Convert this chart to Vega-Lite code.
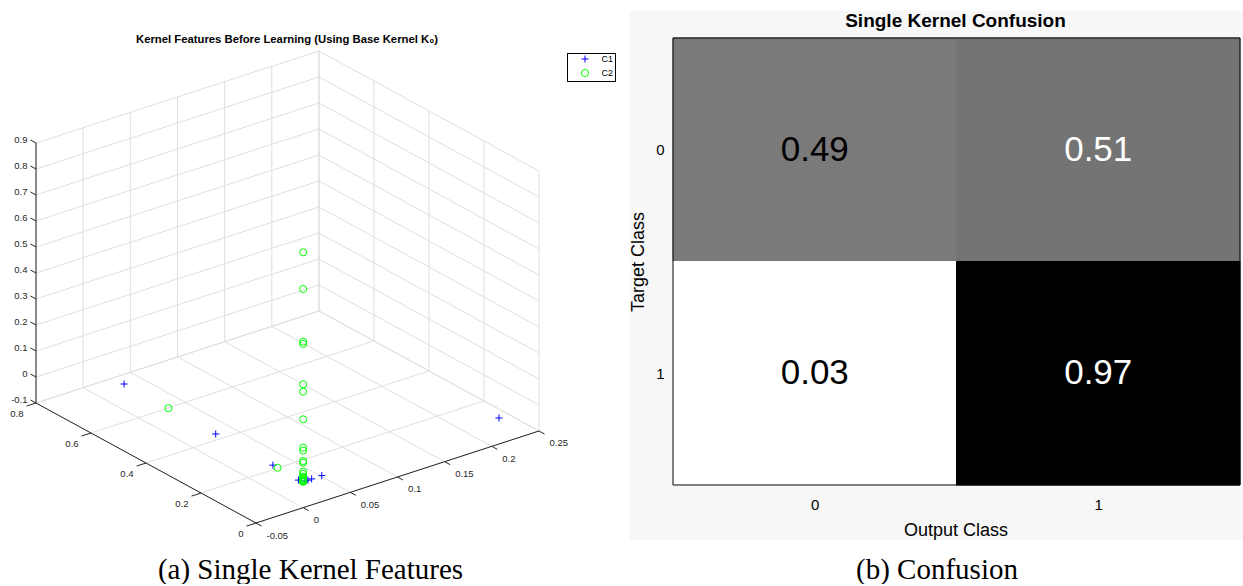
{
  "$schema": "https://vega.github.io/schema/vega-lite/v6.json",
  "padding": {"left": 0, "top": 11, "right": 0, "bottom": 0},
  "background": "#ffffff",
  "bounds": "flush",
  "spacing": 10,
  "config": {"font": "Liberation Sans", "view": {"stroke": null}},
  "datasets": {
    "pts": [
      {"cls": "C1", "x": 0, "y": 0.651, "z": 0},
      {"cls": "C1", "x": 0, "y": 0.318, "z": 0},
      {"cls": "C1", "x": 0, "y": 0.11, "z": 0},
      {"cls": "C1", "x": 0.2076, "y": 0, "z": 0},
      {"cls": "C1", "x": 0.0197, "y": 0, "z": 0},
      {"cls": "C1", "x": 0.009, "y": 0, "z": 0},
      {"cls": "C1", "x": 0.005, "y": 0, "z": 0},
      {"cls": "C1", "x": -0.005, "y": 0, "z": 0.012},
      {"cls": "C1", "x": 0.002, "y": 0, "z": 0},
      {"cls": "C2", "x": 0, "y": 0.49, "z": 0},
      {"cls": "C2", "x": 0, "y": 0.093, "z": 0},
      {"cls": "C2", "x": 0, "y": 0, "z": 0.882},
      {"cls": "C2", "x": 0, "y": 0, "z": 0.741},
      {"cls": "C2", "x": 0, "y": 0, "z": 0.5385},
      {"cls": "C2", "x": 0, "y": 0, "z": 0.5296},
      {"cls": "C2", "x": 0, "y": 0, "z": 0.3746},
      {"cls": "C2", "x": 0, "y": 0, "z": 0.3462},
      {"cls": "C2", "x": 0, "y": 0, "z": 0.24},
      {"cls": "C2", "x": 0, "y": 0, "z": 0.1308},
      {"cls": "C2", "x": 0, "y": 0, "z": 0.1192},
      {"cls": "C2", "x": 0, "y": 0, "z": 0.0796},
      {"cls": "C2", "x": 0, "y": 0, "z": 0.0731},
      {"cls": "C2", "x": 0, "y": 0, "z": 0.0385},
      {"cls": "C2", "x": 0, "y": 0, "z": 0.03},
      {"cls": "C2", "x": 0, "y": 0, "z": 0.0192},
      {"cls": "C2", "x": 0, "y": 0, "z": 0.015},
      {"cls": "C2", "x": 0, "y": 0, "z": 0.0104},
      {"cls": "C2", "x": 0, "y": 0, "z": 0.006},
      {"cls": "C2", "x": 0, "y": 0, "z": 0.003},
      {"cls": "C2", "x": 0, "y": 0, "z": 0},
      {"cls": "C2", "x": 0, "y": 0, "z": 0}
    ],
    "segs": [
      {"kind": "grid", "ax": -0.05, "ay": 0, "az": -0.1, "bx": -0.05, "by": 0.8, "bz": -0.1},
      {"kind": "grid", "ax": 0, "ay": 0, "az": -0.1, "bx": 0, "by": 0.8, "bz": -0.1},
      {"kind": "grid", "ax": 0.05, "ay": 0, "az": -0.1, "bx": 0.05, "by": 0.8, "bz": -0.1},
      {"kind": "grid", "ax": 0.1, "ay": 0, "az": -0.1, "bx": 0.1, "by": 0.8, "bz": -0.1},
      {"kind": "grid", "ax": 0.15, "ay": 0, "az": -0.1, "bx": 0.15, "by": 0.8, "bz": -0.1},
      {"kind": "grid", "ax": 0.2, "ay": 0, "az": -0.1, "bx": 0.2, "by": 0.8, "bz": -0.1},
      {"kind": "grid", "ax": 0.25, "ay": 0, "az": -0.1, "bx": 0.25, "by": 0.8, "bz": -0.1},
      {"kind": "grid", "ax": -0.05, "ay": 0, "az": -0.1, "bx": 0.25, "by": 0, "bz": -0.1},
      {"kind": "grid", "ax": -0.05, "ay": 0.2, "az": -0.1, "bx": 0.25, "by": 0.2, "bz": -0.1},
      {"kind": "grid", "ax": -0.05, "ay": 0.4, "az": -0.1, "bx": 0.25, "by": 0.4, "bz": -0.1},
      {"kind": "grid", "ax": -0.05, "ay": 0.6, "az": -0.1, "bx": 0.25, "by": 0.6, "bz": -0.1},
      {"kind": "grid", "ax": -0.05, "ay": 0.8, "az": -0.1, "bx": 0.25, "by": 0.8, "bz": -0.1},
      {"kind": "grid", "ax": -0.05, "ay": 0.8, "az": -0.1, "bx": -0.05, "by": 0.8, "bz": 0.9},
      {"kind": "grid", "ax": 0, "ay": 0.8, "az": -0.1, "bx": 0, "by": 0.8, "bz": 0.9},
      {"kind": "grid", "ax": 0.05, "ay": 0.8, "az": -0.1, "bx": 0.05, "by": 0.8, "bz": 0.9},
      {"kind": "grid", "ax": 0.1, "ay": 0.8, "az": -0.1, "bx": 0.1, "by": 0.8, "bz": 0.9},
      {"kind": "grid", "ax": 0.15, "ay": 0.8, "az": -0.1, "bx": 0.15, "by": 0.8, "bz": 0.9},
      {"kind": "grid", "ax": 0.2, "ay": 0.8, "az": -0.1, "bx": 0.2, "by": 0.8, "bz": 0.9},
      {"kind": "grid", "ax": 0.25, "ay": 0.8, "az": -0.1, "bx": 0.25, "by": 0.8, "bz": 0.9},
      {"kind": "grid", "ax": -0.05, "ay": 0.8, "az": -0.1, "bx": 0.25, "by": 0.8, "bz": -0.1},
      {"kind": "grid", "ax": -0.05, "ay": 0.8, "az": 0, "bx": 0.25, "by": 0.8, "bz": 0},
      {"kind": "grid", "ax": -0.05, "ay": 0.8, "az": 0.1, "bx": 0.25, "by": 0.8, "bz": 0.1},
      {"kind": "grid", "ax": -0.05, "ay": 0.8, "az": 0.2, "bx": 0.25, "by": 0.8, "bz": 0.2},
      {"kind": "grid", "ax": -0.05, "ay": 0.8, "az": 0.3, "bx": 0.25, "by": 0.8, "bz": 0.3},
      {"kind": "grid", "ax": -0.05, "ay": 0.8, "az": 0.4, "bx": 0.25, "by": 0.8, "bz": 0.4},
      {"kind": "grid", "ax": -0.05, "ay": 0.8, "az": 0.5, "bx": 0.25, "by": 0.8, "bz": 0.5},
      {"kind": "grid", "ax": -0.05, "ay": 0.8, "az": 0.6, "bx": 0.25, "by": 0.8, "bz": 0.6},
      {"kind": "grid", "ax": -0.05, "ay": 0.8, "az": 0.7, "bx": 0.25, "by": 0.8, "bz": 0.7},
      {"kind": "grid", "ax": -0.05, "ay": 0.8, "az": 0.8, "bx": 0.25, "by": 0.8, "bz": 0.8},
      {"kind": "grid", "ax": -0.05, "ay": 0.8, "az": 0.9, "bx": 0.25, "by": 0.8, "bz": 0.9},
      {"kind": "grid", "ax": 0.25, "ay": 0, "az": -0.1, "bx": 0.25, "by": 0, "bz": 0.9},
      {"kind": "grid", "ax": 0.25, "ay": 0.2, "az": -0.1, "bx": 0.25, "by": 0.2, "bz": 0.9},
      {"kind": "grid", "ax": 0.25, "ay": 0.4, "az": -0.1, "bx": 0.25, "by": 0.4, "bz": 0.9},
      {"kind": "grid", "ax": 0.25, "ay": 0.6, "az": -0.1, "bx": 0.25, "by": 0.6, "bz": 0.9},
      {"kind": "grid", "ax": 0.25, "ay": 0.8, "az": -0.1, "bx": 0.25, "by": 0.8, "bz": 0.9},
      {"kind": "grid", "ax": 0.25, "ay": 0, "az": -0.1, "bx": 0.25, "by": 0.8, "bz": -0.1},
      {"kind": "grid", "ax": 0.25, "ay": 0, "az": 0, "bx": 0.25, "by": 0.8, "bz": 0},
      {"kind": "grid", "ax": 0.25, "ay": 0, "az": 0.1, "bx": 0.25, "by": 0.8, "bz": 0.1},
      {"kind": "grid", "ax": 0.25, "ay": 0, "az": 0.2, "bx": 0.25, "by": 0.8, "bz": 0.2},
      {"kind": "grid", "ax": 0.25, "ay": 0, "az": 0.3, "bx": 0.25, "by": 0.8, "bz": 0.3},
      {"kind": "grid", "ax": 0.25, "ay": 0, "az": 0.4, "bx": 0.25, "by": 0.8, "bz": 0.4},
      {"kind": "grid", "ax": 0.25, "ay": 0, "az": 0.5, "bx": 0.25, "by": 0.8, "bz": 0.5},
      {"kind": "grid", "ax": 0.25, "ay": 0, "az": 0.6, "bx": 0.25, "by": 0.8, "bz": 0.6},
      {"kind": "grid", "ax": 0.25, "ay": 0, "az": 0.7, "bx": 0.25, "by": 0.8, "bz": 0.7},
      {"kind": "grid", "ax": 0.25, "ay": 0, "az": 0.8, "bx": 0.25, "by": 0.8, "bz": 0.8},
      {"kind": "grid", "ax": 0.25, "ay": 0, "az": 0.9, "bx": 0.25, "by": 0.8, "bz": 0.9},
      {"kind": "axis", "ax": -0.05, "ay": 0.8, "az": -0.1, "bx": -0.05, "by": 0.8, "bz": 0.9},
      {"kind": "axis", "ax": -0.05, "ay": 0, "az": -0.1, "bx": -0.05, "by": 0.8, "bz": -0.1},
      {"kind": "axis", "ax": -0.05, "ay": 0, "az": -0.1, "bx": 0.25, "by": 0, "bz": -0.1},
      {"kind": "axis", "ax": -0.05, "ay": 0.8, "az": -0.1, "bx": -0.05, "by": 0.82, "bz": -0.1},
      {"kind": "axis", "ax": -0.05, "ay": 0.8, "az": 0, "bx": -0.05, "by": 0.82, "bz": 0},
      {"kind": "axis", "ax": -0.05, "ay": 0.8, "az": 0.1, "bx": -0.05, "by": 0.82, "bz": 0.1},
      {"kind": "axis", "ax": -0.05, "ay": 0.8, "az": 0.2, "bx": -0.05, "by": 0.82, "bz": 0.2},
      {"kind": "axis", "ax": -0.05, "ay": 0.8, "az": 0.3, "bx": -0.05, "by": 0.82, "bz": 0.3},
      {"kind": "axis", "ax": -0.05, "ay": 0.8, "az": 0.4, "bx": -0.05, "by": 0.82, "bz": 0.4},
      {"kind": "axis", "ax": -0.05, "ay": 0.8, "az": 0.5, "bx": -0.05, "by": 0.82, "bz": 0.5},
      {"kind": "axis", "ax": -0.05, "ay": 0.8, "az": 0.6, "bx": -0.05, "by": 0.82, "bz": 0.6},
      {"kind": "axis", "ax": -0.05, "ay": 0.8, "az": 0.7, "bx": -0.05, "by": 0.82, "bz": 0.7},
      {"kind": "axis", "ax": -0.05, "ay": 0.8, "az": 0.8, "bx": -0.05, "by": 0.82, "bz": 0.8},
      {"kind": "axis", "ax": -0.05, "ay": 0.8, "az": 0.9, "bx": -0.05, "by": 0.82, "bz": 0.9},
      {"kind": "axis", "ax": -0.05, "ay": 0, "az": -0.1, "bx": -0.06, "by": 0, "bz": -0.1},
      {"kind": "axis", "ax": -0.05, "ay": 0.2, "az": -0.1, "bx": -0.06, "by": 0.2, "bz": -0.1},
      {"kind": "axis", "ax": -0.05, "ay": 0.4, "az": -0.1, "bx": -0.06, "by": 0.4, "bz": -0.1},
      {"kind": "axis", "ax": -0.05, "ay": 0.6, "az": -0.1, "bx": -0.06, "by": 0.6, "bz": -0.1},
      {"kind": "axis", "ax": -0.05, "ay": 0.8, "az": -0.1, "bx": -0.06, "by": 0.8, "bz": -0.1},
      {"kind": "axis", "ax": -0.05, "ay": 0, "az": -0.1, "bx": -0.05, "by": -0.02, "bz": -0.1},
      {"kind": "axis", "ax": 0, "ay": 0, "az": -0.1, "bx": 0, "by": -0.02, "bz": -0.1},
      {"kind": "axis", "ax": 0.05, "ay": 0, "az": -0.1, "bx": 0.05, "by": -0.02, "bz": -0.1},
      {"kind": "axis", "ax": 0.1, "ay": 0, "az": -0.1, "bx": 0.1, "by": -0.02, "bz": -0.1},
      {"kind": "axis", "ax": 0.15, "ay": 0, "az": -0.1, "bx": 0.15, "by": -0.02, "bz": -0.1},
      {"kind": "axis", "ax": 0.2, "ay": 0, "az": -0.1, "bx": 0.2, "by": -0.02, "bz": -0.1},
      {"kind": "axis", "ax": 0.25, "ay": 0, "az": -0.1, "bx": 0.25, "by": -0.02, "bz": -0.1}
    ],
    "labs": [
      {"axis": "z", "val": 0.9, "t": "0.9"},
      {"axis": "z", "val": 0.8, "t": "0.8"},
      {"axis": "z", "val": 0.7, "t": "0.7"},
      {"axis": "z", "val": 0.6, "t": "0.6"},
      {"axis": "z", "val": 0.5, "t": "0.5"},
      {"axis": "z", "val": 0.4, "t": "0.4"},
      {"axis": "z", "val": 0.3, "t": "0.3"},
      {"axis": "z", "val": 0.2, "t": "0.2"},
      {"axis": "z", "val": 0.1, "t": "0.1"},
      {"axis": "z", "val": 0, "t": "0"},
      {"axis": "z", "val": -0.1, "t": "-0.1"},
      {"axis": "y", "val": 0, "t": "0"},
      {"axis": "y", "val": 0.2, "t": "0.2"},
      {"axis": "y", "val": 0.4, "t": "0.4"},
      {"axis": "y", "val": 0.6, "t": "0.6"},
      {"axis": "y", "val": 0.8, "t": "0.8"},
      {"axis": "x", "val": -0.05, "t": "-0.05"},
      {"axis": "x", "val": 0, "t": "0"},
      {"axis": "x", "val": 0.05, "t": "0.05"},
      {"axis": "x", "val": 0.1, "t": "0.1"},
      {"axis": "x", "val": 0.15, "t": "0.15"},
      {"axis": "x", "val": 0.2, "t": "0.2"},
      {"axis": "x", "val": 0.25, "t": "0.25"}
    ],
    "conf": [
      {"target": 0, "output": 0, "value": 0.49},
      {"target": 0, "output": 1, "value": 0.51},
      {"target": 1, "output": 0, "value": 0.03},
      {"target": 1, "output": 1, "value": 0.97}
    ]
  },
  "hconcat": [
    {
      "width": 620,
      "height": 537,
      "view": {"stroke": null},
      "title": {"text": "Kernel Features Before Learning (Using Base Kernel K₀)", "fontSize": 11.3, "fontWeight": "bold", "font": "Liberation Sans", "color": "#000000", "dx": -23, "offset": -34, "frame": "group", "anchor": "middle"},
      "encoding": {
        "x": {"field": "u", "type": "quantitative", "scale": {"domain": [-256, 364], "nice": false, "zero": false},
              "axis": {"orient": "bottom", "title": "(a) Single Kernel Features", "labels": false, "ticks": false, "domain": false, "grid": false, "titleFont": "Liberation Serif", "titleFontSize": 29, "titleFontWeight": "normal", "titleColor": "#000000", "titlePadding": 7}},
        "y": {"field": "v", "type": "quantitative", "scale": {"domain": [-25, 512], "nice": false, "zero": false}, "axis": null}
      },
      "layer": [
        {
          "data": {"name": "segs"},
          "transform": [
            {"filter": "datum.kind == 'grid'"},
            {"calculate": "(datum.ax + 0.05) * 943.3 - datum.ay * 275", "as": "u"},
            {"calculate": "(datum.ax + 0.05) * 306.7 + datum.ay * 150 + (datum.az + 0.1) * 260", "as": "v"},
            {"calculate": "(datum.bx + 0.05) * 943.3 - datum.by * 275", "as": "u2"},
            {"calculate": "(datum.bx + 0.05) * 306.7 + datum.by * 150 + (datum.bz + 0.1) * 260", "as": "v2"}
          ],
          "mark": {"type": "rule", "color": "#dfdfdf", "strokeWidth": 1},
          "encoding": {"x2": {"field": "u2"}, "y2": {"field": "v2"}}
        },
        {
          "data": {"name": "segs"},
          "transform": [
            {"filter": "datum.kind == 'axis'"},
            {"calculate": "(datum.ax + 0.05) * 943.3 - datum.ay * 275", "as": "u"},
            {"calculate": "(datum.ax + 0.05) * 306.7 + datum.ay * 150 + (datum.az + 0.1) * 260", "as": "v"},
            {"calculate": "(datum.bx + 0.05) * 943.3 - datum.by * 275", "as": "u2"},
            {"calculate": "(datum.bx + 0.05) * 306.7 + datum.by * 150 + (datum.bz + 0.1) * 260", "as": "v2"}
          ],
          "mark": {"type": "rule", "color": "#262626", "strokeWidth": 1},
          "encoding": {"x2": {"field": "u2"}, "y2": {"field": "v2"}}
        },
        {
          "data": {"name": "pts"},
          "transform": [
            {"calculate": "(datum.x + 0.05) * 943.3 - datum.y * 275", "as": "u"},
            {"calculate": "(datum.x + 0.05) * 306.7 + datum.y * 150 + (datum.z + 0.1) * 260", "as": "v"}
          ],
          "mark": {"type": "point", "filled": false, "size": 50, "strokeWidth": 1, "opacity": 1},
          "encoding": {
            "color": {"field": "cls", "type": "nominal", "scale": {"domain": ["C1", "C2"], "range": ["#0000ff", "#00ff00"]},
                      "legend": {"title": null, "orient": "none", "legendX": 567, "legendY": 42, "strokeColor": "#000000", "fillColor": "#ffffff", "padding": 1.5, "labelFontSize": 9, "labelColor": "#000000", "symbolOffset": 12, "labelOffset": 12, "rowPadding": 1, "symbolSize": 50, "symbolStrokeWidth": 1,
                                 "symbolStrokeColor": {"expr": "datum.value === 'C1' ? '#0000ff' : '#00ff00'"}}},
            "shape": {"field": "cls", "type": "nominal", "scale": {"domain": ["C1", "C2"], "range": ["M-1,0H1M0,-1V1", "circle"]},
                      "legend": {"title": null, "orient": "none", "legendX": 567, "legendY": 42, "strokeColor": "#000000", "fillColor": "#ffffff", "padding": 1.5, "labelFontSize": 9, "labelColor": "#000000", "symbolOffset": 12, "labelOffset": 12, "rowPadding": 1, "symbolSize": 50, "symbolStrokeWidth": 1,
                                 "symbolStrokeColor": {"expr": "datum.value === 'C1' ? '#0000ff' : '#00ff00'"}}}
          }
        },
        {
          "data": {"name": "labs"},
          "transform": [
            {"filter": "datum.axis == 'z'"},
            {"calculate": "0 - 0.82 * 275", "as": "u"},
            {"calculate": "0.82 * 150 + (datum.val + 0.1) * 260", "as": "v"}
          ],
          "mark": {"type": "text", "align": "right", "baseline": "middle", "dx": -3, "fontSize": 9.5, "color": "#262626"},
          "encoding": {"text": {"field": "t"}}
        },
        {
          "data": {"name": "labs"},
          "transform": [
            {"filter": "datum.axis == 'y'"},
            {"calculate": "-0.01 * 943.3 - datum.val * 275", "as": "u"},
            {"calculate": "-0.01 * 306.7 + datum.val * 150", "as": "v"}
          ],
          "mark": {"type": "text", "align": "right", "baseline": "middle", "dx": -3, "dy": 8, "fontSize": 9.5, "color": "#262626"},
          "encoding": {"text": {"field": "t"}}
        },
        {
          "data": {"name": "labs"},
          "transform": [
            {"filter": "datum.axis == 'x'"},
            {"calculate": "(datum.val + 0.05) * 943.3 + 0.02 * 275", "as": "u"},
            {"calculate": "(datum.val + 0.05) * 306.7 - 0.02 * 150", "as": "v"}
          ],
          "mark": {"type": "text", "align": "left", "baseline": "middle", "dx": 5, "dy": 9.5, "fontSize": 9.5, "color": "#262626"},
          "encoding": {"text": {"field": "t"}}
        }
      ]
    },
    {
      "width": 613,
      "height": 529,
      "view": {"stroke": null, "fill": "#f7f7f7"},
      "title": {"text": "Single Kernel Confusion", "fontSize": 19, "fontWeight": "bold", "font": "Liberation Sans", "color": "#000000", "offset": -20, "dx": 19, "frame": "group", "anchor": "middle"},
      "data": {"name": "conf"},
      "resolve": {"axis": {"x": "independent"}},
      "layer": [
        {
          "transform": [
            {"calculate": "datum.output + 1", "as": "output_end"},
            {"calculate": "datum.target + 1", "as": "target_end"}
          ],
          "mark": {"type": "rect", "strokeWidth": 1},
          "encoding": {
            "x": {"field": "output", "type": "quantitative", "scale": {"domain": [-0.1517, 2.0106], "nice": false, "zero": false},
                  "axis": {"orient": "bottom", "offset": -55, "values": [0.5, 1.5], "labelExpr": "datum.value < 1 ? '0' : '1'", "ticks": false, "domain": false, "grid": false, "labelFontSize": 15, "labelColor": "#000000", "labelPadding": 12, "title": "Output Class", "titleFontSize": 18, "titleFontWeight": "normal", "titleColor": "#000000", "titlePadding": 9, "titleX": 325.5}},
            "x2": {"field": "output_end"},
            "y": {"field": "target", "type": "quantitative", "scale": {"domain": [-0.1208, 2.2461], "nice": false, "zero": false, "reverse": true},
                  "axis": {"orient": "left", "offset": -43, "values": [0.5, 1.5], "labelExpr": "datum.value < 1 ? '0' : '1'", "ticks": false, "domain": false, "grid": false, "labelFontSize": 15, "labelColor": "#000000", "labelPadding": 9, "title": "Target Class", "titleFontSize": 18, "titleFontWeight": "normal", "titleColor": "#000000", "titlePadding": 8, "titleY": 250.5}},
            "y2": {"field": "target_end"},
            "color": {"field": "value", "type": "quantitative", "scale": {"domain": [0.03, 0.5, 0.97], "range": ["#ffffff", "#777777", "#000000"]}, "legend": null},
            "stroke": {"field": "value", "type": "quantitative", "scale": {"domain": [0.03, 0.5, 0.97], "range": ["#ffffff", "#777777", "#000000"]}, "legend": null}
          }
        },
        {
          "transform": [
            {"calculate": "datum.output + 0.5", "as": "output_mid"},
            {"calculate": "datum.target + 0.5", "as": "target_mid"}
          ],
          "mark": {"type": "text", "fontSize": 35, "font": "Liberation Sans", "baseline": "middle", "align": "center"},
          "encoding": {
            "x": {"field": "output_mid", "type": "quantitative", "scale": {"domain": [-0.1517, 2.0106], "nice": false, "zero": false},
                  "axis": {"orient": "bottom", "title": "(b) Confusion", "labels": false, "ticks": false, "domain": false, "grid": false, "titleFont": "Liberation Serif", "titleFontSize": 29, "titleFontWeight": "normal", "titleColor": "#000000", "titlePadding": 15}},
            "y": {"field": "target_mid", "type": "quantitative", "scale": {"domain": [-0.1208, 2.2461], "nice": false, "zero": false, "reverse": true},
                  "axis": {"orient": "left", "offset": -43, "values": [0.5, 1.5], "labelExpr": "datum.value < 1 ? '0' : '1'", "ticks": false, "domain": false, "grid": false, "labelFontSize": 15, "labelColor": "#000000", "labelPadding": 9, "title": "Target Class", "titleFontSize": 18, "titleFontWeight": "normal", "titleColor": "#000000", "titlePadding": 8, "titleY": 250.5}},
            "text": {"field": "value", "type": "quantitative", "format": ".2f"},
            "color": {"condition": {"test": "datum.value > 0.5", "value": "#ffffff"}, "value": "#000000"}
          }
        },
        {
          "data": {"values": [{"part": "frame"}]},
          "mark": {"type": "rect", "filled": false, "color": "#000000", "strokeWidth": 1},
          "encoding": {
            "x": {"datum": 0, "type": "quantitative", "scale": {"domain": [-0.1517, 2.0106], "nice": false, "zero": false}, "axis": null},
            "x2": {"datum": 2},
            "y": {"datum": 0, "type": "quantitative", "scale": {"domain": [-0.1208, 2.2461], "nice": false, "zero": false, "reverse": true},
                  "axis": {"orient": "left", "offset": -43, "values": [0.5, 1.5], "labelExpr": "datum.value < 1 ? '0' : '1'", "ticks": false, "domain": false, "grid": false, "labelFontSize": 15, "labelColor": "#000000", "labelPadding": 9, "title": "Target Class", "titleFontSize": 18, "titleFontWeight": "normal", "titleColor": "#000000", "titlePadding": 8, "titleY": 250.5}},
            "y2": {"datum": 2}
          }
        }
      ]
    }
  ]
}
